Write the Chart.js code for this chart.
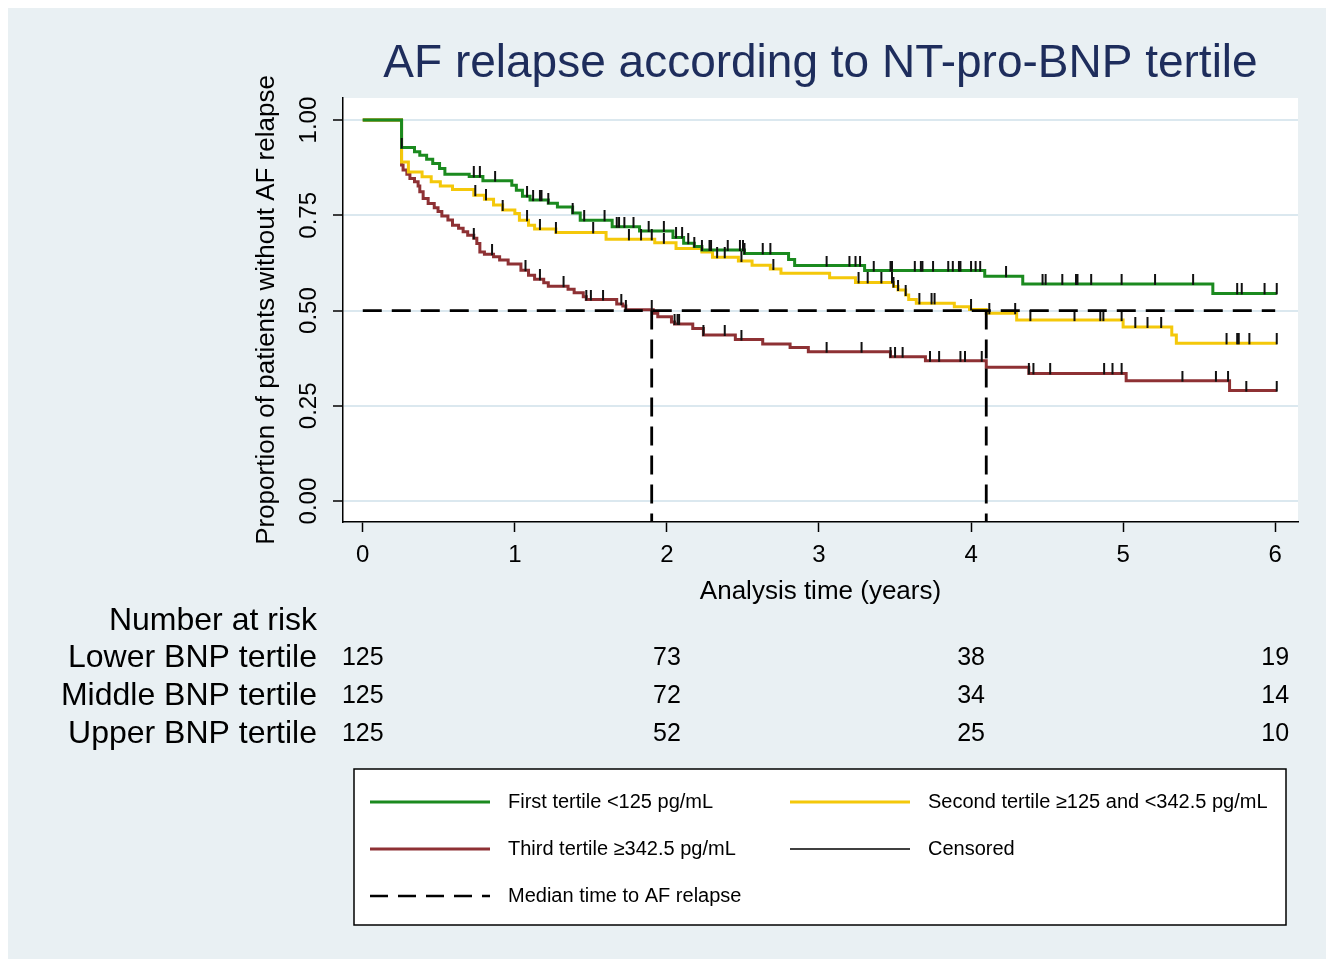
<!DOCTYPE html>
<html>
<head>
<meta charset="utf-8">
<title>AF relapse according to NT-pro-BNP tertile</title>
<script src="https://cdn.jsdelivr.net/npm/chart.js@4.4.1/dist/chart.umd.min.js"></script>
<style>
html, body { margin: 0; padding: 0; background: #fff; }
canvas { display: block; }
</style>
</head>
<body>
<canvas id="grafico" width="1334" height="967"></canvas>
<script>
// eixos
const xTicks = [0, 1, 2, 3, 4, 5, 6]
const yTicks = [0, 0.25, 0.5, 0.75, 1]
const yTickLabels = ["0.00", "0.25", "0.50", "0.75", "1.00"]

// Kaplan-Meier, primeiro tercil (<125 pg/mL)
const firstTimes = [0, 0.255, 0.34, 0.375, 0.42, 0.46, 0.505, 0.54, 0.70, 0.79, 0.98, 1.01, 1.05, 1.10, 1.22, 1.28, 1.38, 1.43, 1.64, 1.82, 2.04, 2.11, 2.18, 2.23, 2.51, 2.80, 2.84, 3.30, 4.09, 4.34, 5.59, 6.01]
const firstSurv = [1, 0.928, 0.917, 0.908, 0.897, 0.886, 0.873, 0.858, 0.852, 0.841, 0.829, 0.816, 0.80, 0.79, 0.782, 0.772, 0.756, 0.737, 0.72, 0.709, 0.692, 0.677, 0.668, 0.659, 0.65, 0.634, 0.618, 0.605, 0.59, 0.57, 0.545, 0.545]
const firstCensored = [0.256, 0.73, 0.77, 0.87, 1.08, 1.12, 1.165, 1.175, 1.22, 1.38, 1.456, 1.59, 1.67, 1.685, 1.72, 1.78, 1.88, 1.98, 2.06, 2.10, 2.14, 2.18, 2.23, 2.28, 2.29, 2.40, 2.48, 2.50, 2.51, 2.63, 2.68, 3.05, 3.20, 3.24, 3.27, 3.36, 3.47, 3.48, 3.63, 3.67, 3.68, 3.75, 3.85, 3.88, 3.92, 3.93, 4.00, 4.03, 4.06, 4.23, 4.47, 4.49, 4.60, 4.69, 4.70, 4.79, 4.99, 5.21, 5.46, 5.75, 5.78, 5.93, 6.01]

// segundo tercil (>=125 e <342.5 pg/mL)
const secondTimes = [0, 0.255, 0.30, 0.39, 0.45, 0.51, 0.59, 0.73, 0.80, 0.86, 0.92, 1.00, 1.03, 1.09, 1.13, 1.27, 1.60, 1.92, 2.06, 2.23, 2.30, 2.47, 2.56, 2.68, 2.75, 3.07, 3.24, 3.49, 3.52, 3.57, 3.59, 3.64, 3.89, 3.99, 4.10, 4.30, 5.00, 5.32, 5.35, 6.01]
const secondSurv = [1, 0.89, 0.864, 0.851, 0.838, 0.827, 0.818, 0.803, 0.792, 0.777, 0.764, 0.755, 0.737, 0.724, 0.714, 0.705, 0.687, 0.678, 0.663, 0.654, 0.64, 0.63, 0.619, 0.609, 0.598, 0.586, 0.574, 0.563, 0.554, 0.541, 0.529, 0.519, 0.51, 0.503, 0.493, 0.475, 0.457, 0.436, 0.414, 0.414]
const secondCensored = [0.74, 0.81, 0.92, 1.08, 1.165, 1.27, 1.515, 1.75, 1.83, 1.90, 1.98, 2.33, 2.38, 2.49, 2.70, 3.26, 3.32, 3.41, 3.48, 3.49, 3.52, 3.57, 3.66, 3.74, 3.76, 4.00, 4.12, 4.29, 4.39, 4.68, 4.85, 4.87, 4.99, 5.08, 5.16, 5.25, 5.68, 5.75, 5.76, 5.83, 6.01]

// terceiro tercil (>=342.5 pg/mL)
const thirdTimes = [0, 0.255, 0.265, 0.29, 0.31, 0.34, 0.364, 0.375, 0.397, 0.43, 0.47, 0.495, 0.52, 0.56, 0.59, 0.63, 0.66, 0.69, 0.73, 0.75, 0.77, 0.80, 0.86, 0.90, 0.956, 1.04, 1.09, 1.13, 1.19, 1.22, 1.35, 1.39, 1.45, 1.47, 1.67, 1.71, 1.73, 1.91, 1.94, 2.03, 2.05, 2.17, 2.24, 2.45, 2.63, 2.81, 2.93, 3.47, 3.70, 4.10, 4.38, 5.02, 5.70, 6.01]
const thirdSurv = [1, 0.882, 0.869, 0.858, 0.847, 0.838, 0.827, 0.812, 0.794, 0.781, 0.77, 0.76, 0.748, 0.738, 0.724, 0.716, 0.707, 0.698, 0.69, 0.676, 0.654, 0.648, 0.641, 0.633, 0.622, 0.606, 0.593, 0.582, 0.573, 0.564, 0.556, 0.547, 0.536, 0.529, 0.517, 0.512, 0.502, 0.493, 0.484, 0.47, 0.465, 0.453, 0.436, 0.424, 0.412, 0.403, 0.392, 0.379, 0.368, 0.351, 0.335, 0.316, 0.29, 0.29]
const thirdCensored = [0.73, 0.85, 1.07, 1.165, 1.32, 1.47, 1.50, 1.58, 1.70, 1.73, 1.90, 2.05, 2.07, 2.08, 2.24, 2.38, 2.49, 3.05, 3.28, 3.47, 3.50, 3.55, 3.73, 3.79, 3.93, 3.96, 4.07, 4.38, 4.41, 4.52, 4.875, 4.93, 4.99, 5.39, 5.61, 5.69, 5.81, 6.01]

// mediana
const medianLevel = 0.5
const medianTimes = [1.90, 4.10]
const medianSpan = [0, 6]

// numero em risco
const riskTimes = [0, 2, 4, 6]
const riskGroups = ["Lower BNP tertile", "Middle BNP tertile", "Upper BNP tertile"]
const riskLower = [125, 73, 38, 19]
const riskMiddle = [125, 72, 34, 14]
const riskUpper = [125, 52, 25, 10]

const FONTE = "'Liberation Sans', Arial, Helvetica, sans-serif"
const VERDE = "#1b8a1f"
const AMARELO = "#f4c80a"
const VERMELHO = "#8e3134"
const Y_MIN = -0.055
const Y_MAX = 1.058

function curva(times, surv){
    return times.map((t, i) => ({ x: t, y: surv[i] }))
}

function valorEm(times, surv, t){
    let v = surv[0]
    for(let i = 0; i < times.length; i++){
        if(times[i] <= t){
            v = surv[i]
        }
    }
    return v
}

function marcas(times, surv, censored){
    return censored.map(t => ({ x: t, y: valorEm(times, surv, t) }))
}

function marcaCensura(){
    const c = document.createElement("canvas")
    c.width = 4
    c.height = 20
    const g = c.getContext("2d")
    g.fillStyle = "#111"
    g.fillRect(1, 0, 2, 11)
    return c
}

const tick = marcaCensura()

function serie(label, times, surv, cor, ordem){
    return {
        label,
        data: curva(times, surv),
        borderColor: cor,
        borderWidth: 3,
        stepped: "before",
        pointRadius: 0,
        fill: false,
        order: ordem
    }
}

function censuras(times, surv, censored){
    return {
        label: "Censored",
        data: marcas(times, surv, censored),
        showLine: false,
        pointStyle: tick,
        pointRadius: 4,
        pointHoverRadius: 4,
        order: 1
    }
}

function tracejado(data){
    return {
        label: "Median time to AF relapse",
        data,
        borderColor: "#000",
        borderWidth: 2.8,
        borderDash: [19, 10],
        pointRadius: 0,
        fill: false,
        order: 0
    }
}

const fundo = {
    id: "fundo",
    beforeDraw(chart){
        const ctx = chart.ctx
        const a = chart.chartArea
        ctx.save()
        ctx.fillStyle = "#fff"
        ctx.fillRect(0, 0, chart.width, chart.height)
        ctx.fillStyle = "#e9f0f3"
        ctx.fillRect(8, 8, chart.width - 16, chart.height - 16)
        ctx.fillStyle = "#fff"
        ctx.fillRect(a.left, a.top, a.right - a.left, a.bottom - a.top)
        ctx.restore()
    }
}

function legendaLinha(ctx, x, y, cor, largura, dash){
    ctx.save()
    ctx.strokeStyle = cor
    ctx.lineWidth = largura
    ctx.setLineDash(dash || [])
    ctx.beginPath()
    ctx.moveTo(x, y)
    ctx.lineTo(x + 120, y)
    ctx.stroke()
    ctx.restore()
}

const textos = {
    id: "textos",
    afterDraw(chart){
        const ctx = chart.ctx
        const xs = chart.scales.x
        const ys = chart.scales.y
        const a = chart.chartArea
        ctx.save()

        // titulo
        ctx.fillStyle = "#1e2d5c"
        ctx.font = `46px ${FONTE}`
        ctx.textAlign = "center"
        ctx.textBaseline = "alphabetic"
        ctx.fillText("AF relapse according to NT-pro-BNP tertile", (a.left + a.right) / 2, 77)

        // eixo y
        ctx.fillStyle = "#000"
        ctx.textBaseline = "middle"
        ctx.font = `24px ${FONTE}`
        yTicks.forEach((v, i) => {
            ctx.save()
            ctx.translate(309, ys.getPixelForValue(v))
            ctx.rotate(-Math.PI / 2)
            ctx.fillText(yTickLabels[i], 0, 0)
            ctx.restore()
        })
        ctx.save()
        ctx.font = `26px ${FONTE}`
        ctx.translate(267, (a.top + a.bottom) / 2)
        ctx.rotate(-Math.PI / 2)
        ctx.fillText("Proportion of patients without AF relapse", 0, 0)
        ctx.restore()

        // eixo x
        ctx.font = `24px ${FONTE}`
        xTicks.forEach(v => {
            ctx.fillText(String(v), xs.getPixelForValue(v), 555)
        })
        ctx.font = `26px ${FONTE}`
        ctx.fillText("Analysis time (years)", (a.left + a.right) / 2, 592)

        // numero em risco
        ctx.font = `32px ${FONTE}`
        ctx.textAlign = "right"
        ctx.fillText("Number at risk", 317, 621)
        const linhas = [riskLower, riskMiddle, riskUpper]
        linhas.forEach((valores, i) => {
            const y = 658 + i * 38
            ctx.font = `32px ${FONTE}`
            ctx.textAlign = "right"
            ctx.fillText(riskGroups[i], 317, y)
            ctx.font = `25px ${FONTE}`
            ctx.textAlign = "center"
            valores.forEach((n, j) => {
                ctx.fillText(String(n), xs.getPixelForValue(riskTimes[j]), y)
            })
        })

        // legenda
        ctx.fillStyle = "#fff"
        ctx.fillRect(354, 769, 932, 156)
        ctx.strokeStyle = "#000"
        ctx.lineWidth = 1.5
        ctx.strokeRect(354, 769, 932, 156)
        legendaLinha(ctx, 370, 802, VERDE, 3)
        legendaLinha(ctx, 790, 802, AMARELO, 3)
        legendaLinha(ctx, 370, 849, VERMELHO, 3)
        legendaLinha(ctx, 790, 849, "#000", 1.5)
        legendaLinha(ctx, 370, 896, "#000", 2.6, [18, 10])
        ctx.fillStyle = "#000"
        ctx.font = `20px ${FONTE}`
        ctx.textAlign = "left"
        ctx.fillText("First tertile <125 pg/mL", 508, 802)
        ctx.fillText("Second tertile \u2265125 and <342.5 pg/mL", 928, 802)
        ctx.fillText("Third tertile \u2265342.5 pg/mL", 508, 849)
        ctx.fillText("Censored", 928, 849)
        ctx.fillText("Median time to AF relapse", 508, 896)

        ctx.restore()
    }
}

const datasets = [
    tracejado(medianSpan.map(t => ({ x: t, y: medianLevel }))),
    tracejado([{ x: medianTimes[0], y: medianLevel }, { x: medianTimes[0], y: Y_MIN }]),
    tracejado([{ x: medianTimes[1], y: medianLevel }, { x: medianTimes[1], y: Y_MIN }]),
    censuras(firstTimes, firstSurv, firstCensored),
    censuras(secondTimes, secondSurv, secondCensored),
    censuras(thirdTimes, thirdSurv, thirdCensored),
    serie("First tertile <125 pg/mL", firstTimes, firstSurv, VERDE, 2),
    serie("Second tertile \u2265125 and <342.5 pg/mL", secondTimes, secondSurv, AMARELO, 3),
    serie("Third tertile \u2265342.5 pg/mL", thirdTimes, thirdSurv, VERMELHO, 4)
]

Chart.defaults.font.family = FONTE

new Chart(document.getElementById("grafico"), {
    type: "line",
    data: { datasets },
    options: {
        responsive: false,
        animation: false,
        devicePixelRatio: 1,
        layout: { padding: { left: 0, top: 98, right: 36, bottom: 425 } },
        plugins: {
            legend: { display: false },
            tooltip: { enabled: false },
            title: { display: false }
        },
        scales: {
            x: {
                type: "linear",
                min: -0.13,
                max: 6.15,
                afterBuildTicks: s => { s.ticks = xTicks.map(v => ({ value: v })) },
                afterFit: s => { s.height = 20 },
                ticks: { display: false },
                grid: { drawOnChartArea: false, tickLength: 10, tickColor: "#000", tickWidth: 1.5 },
                border: { color: "#000", width: 1.5 }
            },
            y: {
                type: "linear",
                min: Y_MIN,
                max: Y_MAX,
                afterBuildTicks: s => { s.ticks = yTicks.map(v => ({ value: v })) },
                afterFit: s => { s.width = 343 },
                ticks: { display: false },
                grid: { color: "#dbe8ef", lineWidth: 2, tickLength: 10, tickColor: "#000", tickWidth: 1.5 },
                border: { color: "#000", width: 1.5 }
            }
        }
    },
    plugins: [fundo, textos]
})
</script>
</body>
</html>
